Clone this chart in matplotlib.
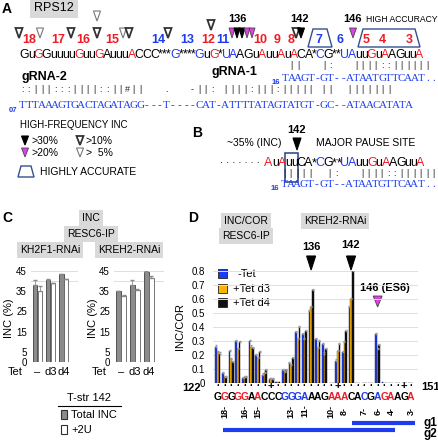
import numpy as np
import matplotlib
matplotlib.use('Agg')
import matplotlib.pyplot as plt
from matplotlib.patches import Polygon, Rectangle

plt.rcParams['font.family'] = ['Liberation Sans', 'DejaVu Sans']

# ---------------- data ----------------
# panel A: edited RPS12 mRNA, indices of red (edit sites) and blue letters
seq_a = "GuGGuuuuGuuGAuuuACCC***G****GuG*UAAGuAuuAuACA*CG**UAuuGuAAGuuA"
red_a = [2, 8, 11, 16, 30, 37, 40, 42, 54, 56, 61]
blue_a = [23, 28, 32, 33, 46, 50, 51]

# editing site numbers written above the sequence
site_num = ['18', '17', '16', '15', '14', '13', '12', '11', '10', '9', '8',
            '7', '6', '5', '4', '3']
site_x = [29, 58, 83, 112, 158, 187, 208, 223, 260, 277, 291, 319, 340,
          366, 382, 409]
site_col = ['r', 'r', 'r', 'r', 'b', 'b', 'r', 'b', 'r', 'r', 'r', 'b', 'b',
            'r', 'r', 'r']

# high-frequency INC triangles (x, top, class)
inc_x = [19, 40, 71, 97, 97, 123, 129, 168, 211, 232, 237, 242, 247, 252,
         296, 301, 353]
inc_top = [28, 28, 28, 11, 28, 28, 28, 28, 20, 28, 28, 28, 28, 28, 28, 28, 28]
inc_cls = ['10', '5', '10', '5', '10', '5', '10', '10', '10', '20', '30',
           '30', '20', '20', '10', '30', '20']

# guide RNAs
grna1 = "TAAGT-GT--ATAATGTTCAAT.."
pair1 = " ||   |:   ||||::||||||  "
grna2 = "TTTAAAGTGACTAGATAGG---T----CAT-ATTTTATAGTATGT-GC--ATAACATATA"
pair2 = "::|||:::||||::||#||   .   -||: ||||:|||:||||| ||  |||||||   "

# panel B
seq_b = "AuAuuCA*CG**UAuuGuAAGuuA"
red_b = [0, 2, 16, 18, 23]
blue_b = [8, 12, 13]
pair_b = "|||||  |:   ||||::||||||  "

# panel C: INC (%) in RESC6-IP
tet = ['\u2013', 'd3', 'd4']
kh2f1_total = [37.9, 40.4, 43.2]
kh2f1_total_err = [2.5, 0.4, 0.4]
kh2f1_2u = [34.9, 38.7, 40.7]
kh2f1_2u_err = [2.5, 0.4, 0.3]
kreh2_total = [34.9, 37.9, 44.5]
kreh2_total_err = [0.3, 2.5, 0.4]
kreh2_2u = [32.5, 35.7, 41.5]
kreh2_2u_err = [0.3, 0.5, 0.8]

# panel D: INC/COR along positions 122-151
seq_d = "GGGGGAACCCGGGAAAGAAACACGAGAAGA"
red_d = [1, 3, 4, 6, 17, 18, 19, 25, 26, 29]
blue_d = [10, 11, 12, 13, 22, 24]
site_d = {1: '18', 4: '16', 6: '15', 11: '13', 13: '11', 17: '10', 19: '8',
          22: '7', 24: '6', 26: '4', 29: '3'}
plus_d = [8, 18, 28]
minus_tet = [0.26, 0.07, 0.23, 0.30, 0.035, 0.30, 0.20, 0.06, 0.03, 0.01,
             0.09, 0.14, 0.36, 0.35, 0.51, 0.31, 0.28, 0, 0.16, 0.22,
             0.54, 0, 0, 0, 0.35, 0.005, 0, 0, 0, 0]
tet_d3 = [0.22, 0.045, 0.17, 0.24, 0.04, 0.26, 0.18, 0.07, 0.03, 0.01,
          0.08, 0.13, 0.31, 0.31, 0.54, 0.25, 0.21, 0, 0.23, 0.29,
          0.60, 0, 0, 0, 0.24, 0, 0, 0, 0, 0]
tet_d4 = [0.21, 0.04, 0.15, 0.29, 0.04, 0.25, 0.22, 0.09, 0.03, 0.01,
          0.09, 0.18, 0.40, 0.37, 0.66, 0.30, 0.24, 0, 0.28, 0.37,
          0.80, 0, 0, 0, 0.27, 0, 0, 0, 0, 0]

RED = '#ee1c25'
BLUE = '#1d3cf0'
NAVY = '#34508f'
MAG = '#e040e8'
GBOX = '#d9d9d9'
COL = {'k': 'black', 'r': RED, 'b': BLUE}

W, H = 438, 440
fig = plt.figure(figsize=(W / 100, H / 100), dpi=100)
ov = fig.add_axes([0, 0, 1, 1], zorder=0)
ov.set_xlim(0, W)
ov.set_ylim(H, 0)
ov.axis('off')
rend = fig.canvas.get_renderer()


def txt(x, y, s, size=7.5, **kw):
    kw.setdefault('ha', 'left')
    kw.setdefault('va', 'center')
    return ov.text(x, y, s, fontsize=size, **kw)


def gbox(x, y, s, size=7.5):
    txt(x, y, s, size, ha='center',
        bbox=dict(boxstyle='square,pad=0.3', fc=GBOX, ec='none'))


def seq_text(x0, x1, y, s, reds=(), blues=(), size=8.5,
             family='Liberation Sans', weight='normal', color='black',
             mono=False):
    # lay the letters out by their own widths (or evenly), fitted to x0..x1
    if mono:
        ws = np.ones(len(s))
    else:
        ws = []
        for ch in s:
            t = ov.text(0, 0, ch, fontsize=size, family=family, weight=weight)
            ws.append(t.get_window_extent(rend).width)
            t.remove()
        ws = np.array(ws)
    k = (x1 - x0) / ws.sum()
    cen = x0 + (np.cumsum(ws) - ws / 2) * k
    for i, (c, ch) in enumerate(zip(cen, s)):
        col = RED if i in reds else (BLUE if i in blues else color)
        ov.text(c, y, ch, fontsize=size, family=family, weight=weight,
                color=col, ha='center', va='baseline')
    return cen


def pairs(cen, y, p, size=6.5):
    for c, ch in zip(cen, p):
        if ch != ' ':
            ov.text(c, y, ch, fontsize=size, ha='center', va='center',
                    color='#222222')


def tri(x, top, w=7, h=10, fc='black', ec='black', lw=0.8):
    ov.add_patch(Polygon([(x - w / 2, top), (x + w / 2, top), (x, top + h)],
                         closed=True, fc=fc, ec=ec, lw=lw))


def tri_cls(x, top, cls, w=7, h=10):
    if cls == '30':
        tri(x, top, w, h)
    elif cls == '20':
        tri(x, top, w, h, fc=MAG, ec='#444444', lw=0.6)
    elif cls == '10':
        tri(x, top, w, h, fc='white', ec='#333333', lw=1.3)
    else:
        tri(x, top, w, h, fc='white', ec='#777777', lw=0.8)


def trap(x0, x1, top, bot, d=5):
    ov.add_patch(Polygon([(x0 + d, top), (x1 - d, top), (x1, bot), (x0, bot)],
                         closed=True, fc='none', ec=NAVY, lw=1.0))


# ---------------- panel A ----------------
txt(2, 9, 'A', 10, weight='bold')
gbox(54, 8, 'RPS12', 9)
seq_text(20, 423, 57.5, seq_a, red_a, blue_a, size=8.8)
for s, x, c in zip(site_num, site_x, site_col):
    txt(x, 40, s, 9, ha='center', weight='bold', color=COL[c])
for x, t, c in zip(inc_x, inc_top, inc_cls):
    w = 6 if 228 < x < 256 else 7
    tri_cls(x, t, c, w=w)
txt(237, 19, '136', 8, ha='center', weight='bold')
txt(300, 19, '142', 8, ha='center', weight='bold')
txt(353, 19, '146', 8, ha='center', weight='bold')
txt(366, 19, 'HIGH ACCURACY', 6.2)
trap(308, 332, 29, 47)
trap(358, 420, 29, 47)

txt(21, 77, 'gRNA-2', 9, weight='bold')
txt(212, 72, 'gRNA-1', 9, weight='bold')
c1 = seq_text(282, 437, 81, grna1, size=8, family='Liberation Serif',
              color=BLUE, mono=True)
txt(276, 83, '16', 5.5, ha='center', color=BLUE, weight='bold')
pairs(c1, 65, pair1)
c2 = seq_text(19, 412, 108, grna2, size=8, family='Liberation Serif',
              color=BLUE, mono=True)
txt(13, 110, '07', 5.5, ha='center', color=BLUE, weight='bold')
pairs(c2, 90, pair2)

txt(20, 125, 'HIGH-FREQUENCY INC', 7)
tri_cls(25, 136, '30', 7, 9)
txt(32, 141, '>30%', 7.5)
tri_cls(80, 136, '10', 7, 9)
txt(86, 141, '>10%', 7.5)
tri_cls(25, 148, '20', 7, 9)
txt(32, 153, '>20%', 7.5)
tri_cls(80, 148, '5', 7, 9)
txt(86, 153, '>  5%', 7.5)
trap(18, 34, 166, 177, d=3)
txt(40, 172, 'HIGHLY ACCURATE', 7.5)

# ---------------- panel B ----------------
txt(192, 133, 'B', 10, weight='bold')
txt(227, 143, '~35% (INC)', 7.5)
txt(297, 130, '142', 8, ha='center', weight='bold')
tri(297, 138, 8, 12)
txt(316, 143, 'MAJOR PAUSE SITE', 7.5)
txt(240, 160, '. . . . . . .', 8, ha='center')
seq_text(265, 424, 166, seq_b, red_b, blue_b, size=9)
ov.add_patch(Rectangle((285, 153), 13, 29, fc='none', ec=NAVY, lw=1.2))
cb = seq_text(281, 437, 187, grna1, size=8, family='Liberation Serif',
              color=BLUE, mono=True)
txt(275, 188, '16', 5.5, ha='center', color=BLUE, weight='bold')
pairs(cb, 174, pair_b)

# ---------------- panel C ----------------
txt(2, 218, 'C', 10, weight='bold')
gbox(91, 218, 'INC')
gbox(91, 234, 'RESC6-IP')
gbox(50, 250, 'KH2F1-RNAi')
gbox(129, 250, 'KREH2-RNAi')


def inc_chart(left, width, total, total_err, plus2u, plus2u_err, ylab_x):
    ax = fig.add_axes([left / W, 1 - 362 / H, width / W, 91.3 / H])
    x = np.arange(len(tet))
    for g in [40, 45]:
        ax.axhline(g, color='#dddddd', lw=0.7, zorder=0)
    ax.bar(x - 0.19, total, 0.36, color='#8c8c8c', edgecolor='#404040',
           lw=0.6, zorder=2)
    ax.bar(x + 0.19, plus2u, 0.36, color='white', edgecolor='#606060',
           lw=0.6, zorder=2)
    ax.errorbar(x - 0.19, total, yerr=[np.zeros(3), total_err], fmt='none',
                ecolor='#8a8a8a', elinewidth=0.6, capsize=1.5, zorder=3)
    ax.errorbar(x + 0.19, plus2u, yerr=[np.zeros(3), plus2u_err], fmt='none',
                ecolor='#8a8a8a', elinewidth=0.6, capsize=1.5, zorder=3)
    ax.set_xlim(-0.5, 3.1)
    ax.set_ylim(0, 45)
    ax.set_yticks([0, 5, 15, 25, 35, 45])
    ax.tick_params(axis='y', length=0, pad=3, labelsize=7)
    ax.set_xticks([])
    for sp in ax.spines.values():
        sp.set_visible(False)
    ax.patch.set_alpha(0)
    for i, lab in enumerate(tet):
        px = ax.transData.transform((i, 0))[0]
        txt(px, 372, lab, 8, ha='center')
    txt(ylab_x, 318, 'INC (%)', 8, ha='center', rotation=90)
    txt(ylab_x + 6, 372, 'Tet', 8, ha='center')
    return ax


inc_chart(31, 47, kh2f1_total, kh2f1_total_err, kh2f1_2u, kh2f1_2u_err, 9)
inc_chart(114, 50, kreh2_total, kreh2_total_err, kreh2_2u, kreh2_2u_err, 93)

txt(89, 398, 'T-str 142', 8, ha='center')
ov.plot([58, 121], [406, 406], color='black', lw=0.8)
ov.add_patch(Rectangle((61, 410), 6, 9, fc='#8c8c8c', ec='#303030', lw=0.8))
txt(71, 415, 'Total INC', 8)
ov.add_patch(Rectangle((61, 425), 6, 9, fc='white', ec='#303030', lw=0.8))
txt(71, 430, '+2U', 8)

# ---------------- panel D ----------------
txt(188, 218, 'D', 10, weight='bold')
gbox(246, 221, 'INC/COR')
gbox(246, 236, 'RESC6-IP')
gbox(335, 221, 'KREH2-RNAi')

axd = fig.add_axes([213 / W, 1 - 383 / H, 205 / W, 112.3 / H])
pos = np.arange(len(seq_d))
bw = 0.25
for g in np.arange(0.1, 0.81, 0.1):
    axd.axhline(g, color='#e0e0e0', lw=0.7, zorder=0)
for off, vals, fc, ec in [(-bw, minus_tet, BLUE, '#0a1a70'),
                          (0, tet_d3, '#ffb400', '#6a4a00'),
                          (bw, tet_d4, '#111111', '#000000')]:
    vals = np.array(vals)
    axd.bar(pos + off, vals, bw, color=fc, edgecolor=ec, lw=0.3, zorder=2)
    m = vals > 0.02
    axd.errorbar(pos[m] + off, vals[m], yerr=[np.zeros(m.sum()),
                 np.full(m.sum(), 0.008)], fmt='none', ecolor='#999999',
                 elinewidth=0.5, capsize=1, zorder=3)
axd.set_xlim(-0.75, 30.07)
axd.set_ylim(0, 0.8)
axd.set_yticks(np.round(np.arange(0, 0.81, 0.1), 1))
axd.set_yticklabels(['0'] + ['%.1f' % v for v in np.arange(0.1, 0.81, 0.1)])
axd.tick_params(axis='y', length=0, pad=6, labelsize=7)
axd.set_xticks([])
for sp in axd.spines.values():
    sp.set_visible(False)
axd.patch.set_alpha(0)
txt(180, 326, 'INC/COR', 8, ha='center', rotation=90)

px = [axd.transData.transform((i, 0))[0] for i in pos]
for i, x in enumerate(px):
    col = RED if i in red_d else (BLUE if i in blue_d else 'black')
    ov.text(x, 400.5, seq_d[i], fontsize=7.5, weight='bold',
            color=col, ha='center', va='baseline')
    if i in plus_d:
        txt(x, 386, '+', 8, ha='center', weight='bold')
    else:
        txt(x, 386, '\u00b7', 7, ha='center', weight='bold')
    if i in site_d:
        txt(x, 411, site_d[i] + '-', 6.5, ha='center', va='center',
            rotation=90, weight='bold')
txt(192, 388, '122', 8, ha='center', weight='bold')
txt(430, 387, '151', 8, ha='center', weight='bold')

# arrowheads for the high-frequency sites
for i, lab, ty, ly in [(14, '136', 256, 247), (20, '142', 256, 245)]:
    tri(px[i], ty, 9, 14)
    txt(px[i], ly, lab, 8, ha='center', weight='bold')
tri(px[24], 296, 9, 11, fc=MAG, ec='#444444', lw=0.6)
txt(385, 288, '146 (ES6)', 8, ha='center', weight='bold')

# legend
for y, fc, lab, tx in [(274, BLUE, '-Tet', 238), (289, '#ffb400', '+Tet d3', 233),
                       (303, '#111111', '+Tet d4', 233)]:
    ov.add_patch(Rectangle((218, y - 4.5), 9, 9, fc=fc, ec='#222222', lw=0.6))
    txt(tx, y, lab, 8)

# guide coverage bars
ov.plot([px[20] + 1, px[29] + 4], [423, 423], color=BLUE, lw=3,
        solid_capstyle='butt')
ov.plot([px[1] - 2, px[26] + 4], [430, 430], color=BLUE, lw=3,
        solid_capstyle='butt')
txt(423, 423, 'g1', 8.5, weight='bold')
txt(423, 434, 'g2', 8.5, weight='bold')

fig.savefig('out.png', dpi=100)
